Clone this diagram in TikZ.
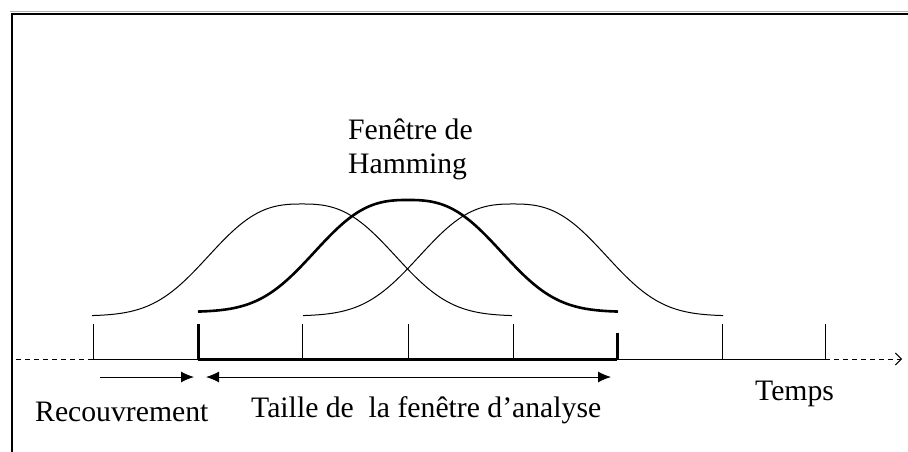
\documentclass[tikz,border=0pt]{standalone}
\usepackage{fontspec}
\setmainfont{Liberation Serif}
\usetikzlibrary{arrows.meta}
\begin{document}
\begin{tikzpicture}[x=1pt,y=-1pt,
  thinline/.style={line width=1pt,black},
  boldline/.style={line width=3pt,black},
  dashline/.style={line width=1pt,dash pattern=on 5pt off 4pt},
  lbl/.style={inner sep=0pt,anchor=base west,font=\fontsize{29.7}{34}\selectfont},
  arr/.style={line width=1pt,-{Latex[length=13pt,width=11pt]}},
  darr/.style={line width=1pt,{Latex[length=13pt,width=11pt]}-{Latex[length=13pt,width=11pt]}}]
\useasboundingbox (0,0) rectangle (908,451);
\fill[white] (0,0) rectangle (908,451);
% frame
\draw[gray!60,line width=1pt] (10,11) -- (920,11);
\draw[line width=2pt] (12,470) -- (12,14) -- (920,14);
% axis coordinates
\foreach \i/\x in {0/93,1/198,2/302,3/408,4/513,5/617,6/722,7/825}
  \coordinate (t\i) at (\x,359);
\coordinate (ls) at (16,359);
\coordinate (re) at (902,359);
\draw[dashline] (ls) -- (t0);
\draw[dashline,-{Straight Barb[length=6pt,width=12pt]}] (t7) -- (re);
\draw[thinline] (t0) -- (t7);
\draw[boldline] (t1) -- (t5);
% ticks
\foreach \i in {0,2,3,4,6,7}
  \draw[thinline] (t\i) -- ++(0,-35);
\draw[boldline] (t1) -- ++(0,-35);
\draw[boldline] (t5) -- ++(0,-26);
% curves
\draw[thinline,domain=-210:210,samples=100,smooth]
  plot ({302+\x},{204+112*(1-exp(-pow(abs(\x)/111.3,2.7)))});
\draw[thinline,domain=-210:210,samples=100,smooth]
  plot ({513+\x},{204+112*(1-exp(-pow(abs(\x)/111.3,2.7)))});
\draw[boldline,line width=2.6pt,domain=-210:210,samples=100,smooth]
  plot ({408+\x},{200+112*(1-exp(-pow(abs(\x)/111.3,2.7)))});
% arrows
\coordinate (ra) at (100,377);
\coordinate (rb) at (194,377);
\coordinate (ta) at (206,377);
\coordinate (tb) at (611,377);
\draw[arr] (ra) -- (rb);
\draw[darr] (ta) -- (tb);
% labels
\node[lbl] (fen) at (348,139) {Fenêtre de};
\node[lbl] (ham) at (348,173) {Hamming};
\node[lbl] (rec) at (35,421) {Recouvrement};
\node[lbl] (tai) at (251,417) {Taille de\ \ la fenêtre d’analyse};
\node[lbl] (tem) at (755,400) {Temps};
\end{tikzpicture}
\end{document}
